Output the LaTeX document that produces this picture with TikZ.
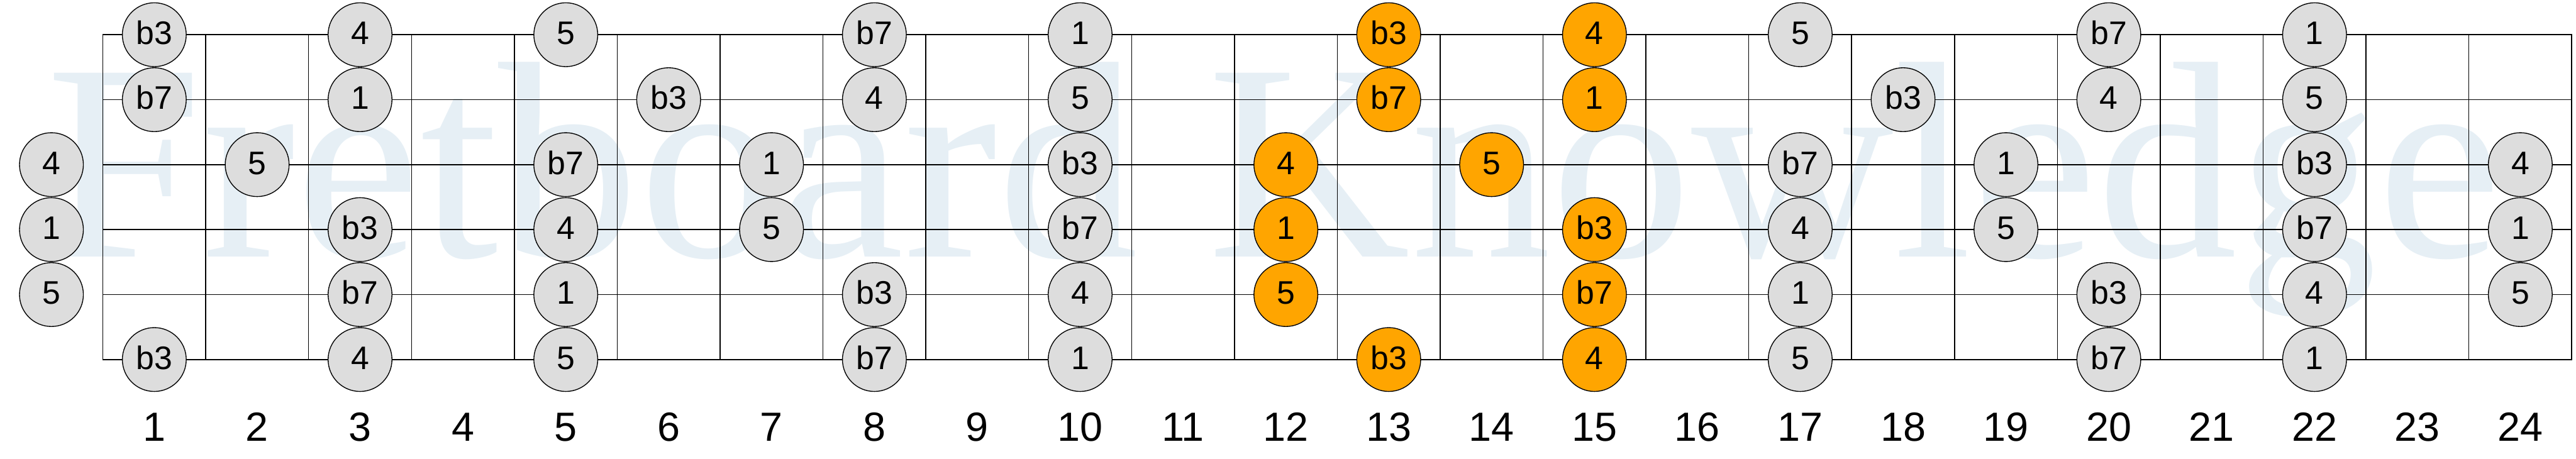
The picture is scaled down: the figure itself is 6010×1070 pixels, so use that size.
\documentclass[tikz,border=0pt]{standalone}
\usepackage{fontspec}
\setmainfont{Liberation Sans}
\newfontfamily\wmfont{Liberation Serif}
\definecolor{wmblue}{RGB}{230,239,245}
\definecolor{notegrey}{RGB}{221,221,221}
\definecolor{noteorange}{RGB}{255,165,0}
\begin{document}
\begin{tikzpicture}[x=1pt,y=-1pt,
  grid/.style={line width=2.2pt, draw=black},
  note/.style={circle, draw=black, line width=2pt, minimum size=149pt, inner sep=0pt,
    font=\fontsize{76}{76}\selectfont, text height=54.4pt, text depth=9pt},
  fretnum/.style={font=\fontsize{95}{95}\selectfont, anchor=base, inner sep=0pt},
  wmark/.style={font=\wmfont\fontsize{655}{655}\selectfont, text=wmblue, anchor=base west, inner sep=0pt}]
\useasboundingbox (0,0) rectangle (6010,1070);
% watermark
\node[wmark] (wm) at (108,600) {Fretboard Knowledge};
% strings
\foreach \s in {0,...,5} {
  \draw[grid] (240,{81+151.6*\s}) -- (6000,{81+151.6*\s});
}
% frets
\foreach \f in {0,...,24} {
  \draw[grid] ({240+240*\f},81) -- ({240+240*\f},839);
}
\draw[grid] (240,81) rectangle (6000,839);
% notes: row/fret/label/colour
\foreach \r/\f/\t/\c in {
  0/1/b3/notegrey, 0/3/4/notegrey, 0/5/5/notegrey, 0/8/b7/notegrey, 0/10/1/notegrey,
  0/13/b3/noteorange, 0/15/4/noteorange, 0/17/5/notegrey, 0/20/b7/notegrey, 0/22/1/notegrey,
  1/1/b7/notegrey, 1/3/1/notegrey, 1/6/b3/notegrey, 1/8/4/notegrey, 1/10/5/notegrey,
  1/13/b7/noteorange, 1/15/1/noteorange, 1/18/b3/notegrey, 1/20/4/notegrey, 1/22/5/notegrey,
  2/0/4/notegrey, 2/2/5/notegrey, 2/5/b7/notegrey, 2/7/1/notegrey, 2/10/b3/notegrey,
  2/12/4/noteorange, 2/14/5/noteorange, 2/17/b7/notegrey, 2/19/1/notegrey, 2/22/b3/notegrey, 2/24/4/notegrey,
  3/0/1/notegrey, 3/3/b3/notegrey, 3/5/4/notegrey, 3/7/5/notegrey, 3/10/b7/notegrey,
  3/12/1/noteorange, 3/15/b3/noteorange, 3/17/4/notegrey, 3/19/5/notegrey, 3/22/b7/notegrey, 3/24/1/notegrey,
  4/0/5/notegrey, 4/3/b7/notegrey, 4/5/1/notegrey, 4/8/b3/notegrey, 4/10/4/notegrey,
  4/12/5/noteorange, 4/15/b7/noteorange, 4/17/1/notegrey, 4/20/b3/notegrey, 4/22/4/notegrey, 4/24/5/notegrey,
  5/1/b3/notegrey, 5/3/4/notegrey, 5/5/5/notegrey, 5/8/b7/notegrey, 5/10/1/notegrey,
  5/13/b3/noteorange, 5/15/4/noteorange, 5/17/5/notegrey, 5/20/b7/notegrey, 5/22/1/notegrey} {
  \node[note, fill=\c] (n\r-\f) at ({120+240*\f},{81+151.6*\r}) {\t};
}
% fret numbers
\foreach \f in {1,...,24} {
  \node[fretnum] (num\f) at ({120+240*\f},1030) {\f};
}
\end{tikzpicture}
\end{document}
